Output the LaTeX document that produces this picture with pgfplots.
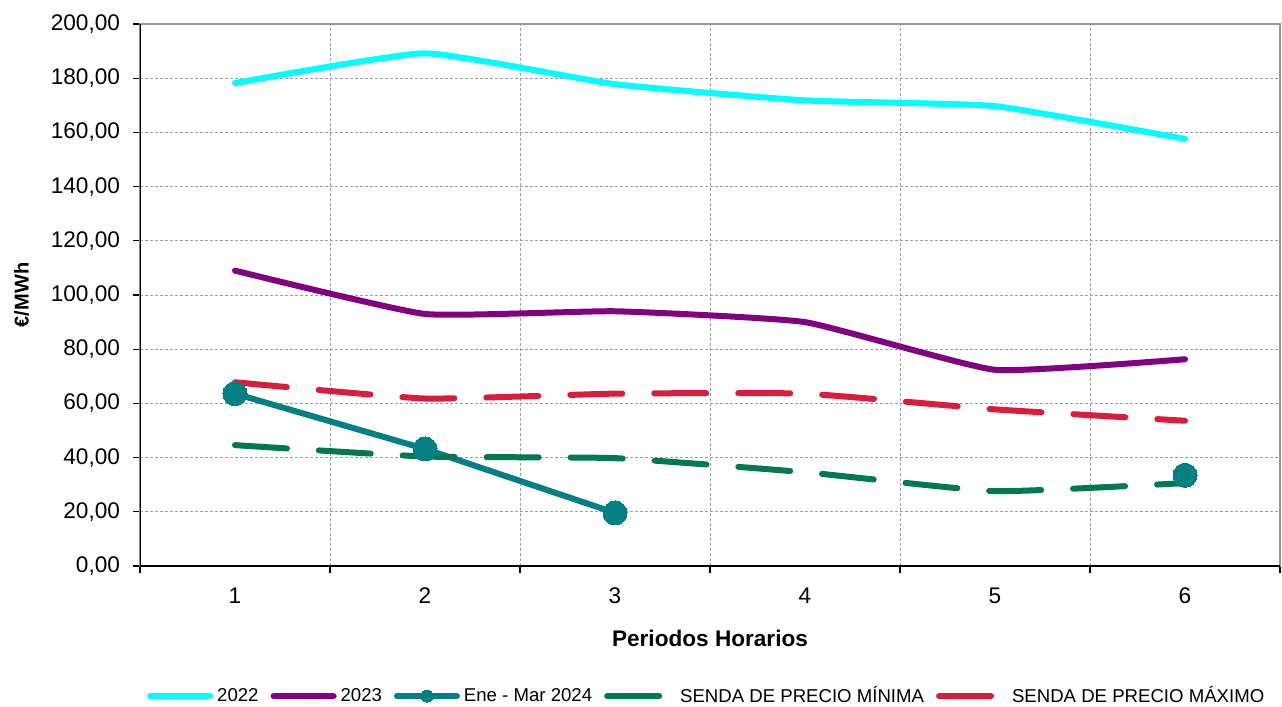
\documentclass[border=0pt]{standalone}
\usepackage{pgfplots}
\pgfplotsset{compat=1.18}
\usepackage{fontspec}
\setmainfont{Liberation Sans}
\definecolor{c22}{RGB}{0,255,255}
\definecolor{c23}{RGB}{128,0,128}
\definecolor{c24}{RGB}{0,128,128}
\definecolor{cmin}{RGB}{0,120,82}
\definecolor{cmax}{RGB}{216,30,60}
\pgfplotsset{
  lineleg/.style={legend image code/.code={\draw[##1] (0pt,0pt) -- (30pt,0pt);}},
  markleg/.style={legend image code/.code={\draw[##1, mark size=3pt, mark repeat=2, mark phase=2] plot coordinates {(0pt,0pt) (15pt,0pt) (30pt,0pt)};}},
}
\begin{document}
\begin{tikzpicture}
\begin{axis}[
  scale only axis,
  width=570pt, height=271pt,
  xmin=0.5, xmax=6.5, ymin=0, ymax=200,
  xtick={1,2,3,4,5,6},
  minor xtick={0.5,1.5,2.5,3.5,4.5,5.5,6.5},
  ytick={0,20,...,200},
  major x tick style={draw=none},
  minor tick length=3.5pt,
  major tick length=3.5pt,
  tick align=outside,
  xtick pos=bottom, ytick pos=left,
  minor x tick style={black, line width=0.6pt},
  y tick style={black, line width=0.6pt},
  xminorgrids=true, ymajorgrids=true,
  minor grid style={gray!75, dash pattern=on 1.5pt off 1pt, line width=0.4pt},
  major grid style={gray!75, dash pattern=on 1.5pt off 1pt, line width=0.4pt},
  axis line style={gray!80, line width=0.8pt},
  tick label style={font=\fontsize{11.3}{13}\selectfont},
  yticklabel style={xshift=-3pt},
  xticklabel style={yshift=-4pt},
  /pgf/number format/assume math mode=true,
  yticklabel={\pgfmathprintnumber[fixed, fixed zerofill, precision=2, use comma, 1000 sep={}]{\tick}},
  xticklabel={\pgfmathprintnumber[fixed, precision=0]{\tick}},
  xlabel={\textbf{Periodos Horarios}},
  xlabel style={font=\fontsize{11.3}{13}\selectfont, yshift=-6pt},
  ylabel={\textbf{€/MWh}},
  ylabel style={font=\fontsize{10}{12}\selectfont, yshift=4pt},
  legend columns=5,
  legend style={at={(0.498,-0.24)}, anchor=center, draw=none, fill=none,
    font=\fontsize{9.3}{11}\selectfont,
    /tikz/every even column/.append style={column sep=4pt}},
  legend cell align=left,
  lineleg,
  unbounded coords=jump,
  every axis plot/.append style={line width=3pt, line cap=round, line join=round},
]
\coordinate (sw) at (rel axis cs:0,0);
\coordinate (ne) at (rel axis cs:1,1);
\draw[black, line width=0.9pt] (rel axis cs:0,1) -- (rel axis cs:0,0) -- (rel axis cs:1,0);

\addplot[c22, smooth, tension=0.25] coordinates {(1,178.2) (2,189.2) (3,177.8) (4,171.8) (5,169.7) (6,157.6)};
\addlegendentry{2022}
\addplot[c23, smooth, tension=0.25] coordinates {(1,109.0) (2,93.0) (3,94.0) (4,90.0) (5,72.4) (6,76.3)};
\addlegendentry{2023}
\addplot[c24, mark=*, mark size=6pt, mark options={solid, line width=0pt}, markleg]
  coordinates {(1,63.6) (2,43.2) (3,19.6) (4,nan) (5,nan) (6,33.5)};
\addlegendentry{Ene - Mar 2024}
\addplot[cmin, dash pattern=on 26pt off 16pt, smooth, tension=0.25] coordinates {(1,44.6) (2,40.4) (3,39.8) (4,34.6) (5,27.6) (6,30.6)};
\addlegendentry{\hspace{3pt}SENDA DE PRECIO MÍNIMA}
\addplot[cmax, dash pattern=on 26pt off 16pt, smooth, tension=0.25] coordinates {(1,67.8) (2,61.8) (3,63.6) (4,63.6) (5,57.8) (6,53.6)};
\addlegendentry{\hspace{3pt}SENDA DE PRECIO MÁXIMO}
\end{axis}
\pgfresetboundingbox
\path ([shift={(-70pt,-70pt)}]sw) rectangle ([shift={(1pt,12pt)}]ne);
\end{tikzpicture}
\end{document}
